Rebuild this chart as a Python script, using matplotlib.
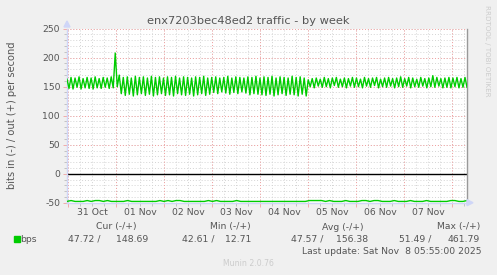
import numpy as np
import matplotlib
matplotlib.use("Agg")
import matplotlib.pyplot as plt
from matplotlib.patches import Rectangle

# time axis in days, 0 = 31 Oct 00:00
t_start, t_end = -0.021, 8.3125
day_labels = ["31 Oct", "01 Nov", "02 Nov", "03 Nov", "04 Nov", "05 Nov", "06 Nov", "07 Nov"]
y_ticks = [250, 200, 150, 100, 50, 0, -50]

# out (+) bits/s, one value per hour (peak / trough alternating)
out_vals = [
    163, 147, 166, 146, 165, 149, 167, 146, 164, 148, 166, 147, 165, 146, 167, 148, 164, 147, 166, 149, 165, 147, 167, 148,
    208, 150, 170, 138, 166, 135, 167, 137, 165, 134, 168, 136, 166, 138, 167, 135, 165, 137, 168, 134, 166, 136, 167, 138,
    165, 135, 167, 136, 166, 134, 168, 138, 165, 136, 167, 135, 166, 137, 165, 134, 167, 136, 166, 138, 168, 135, 165, 137,
    166, 140, 167, 138, 165, 141, 166, 139, 168, 137, 165, 140, 167, 138, 166, 141, 165, 139, 167, 136, 166, 138, 168, 137,
    165, 136, 167, 135, 166, 137, 168, 134, 165, 136, 167, 138, 166, 135, 165, 137, 168, 136, 166, 134, 167, 137, 165, 134,
    162, 150, 164, 148, 165, 151, 163, 149, 166, 150, 164, 148, 165, 152, 166, 149, 163, 150, 165, 148, 164, 151, 166, 149,
    165, 150, 163, 148, 166, 151, 164, 149, 165, 152, 166, 148, 163, 150, 165, 149, 166, 151, 164, 148, 165, 150, 167, 149,
    164, 151, 166, 148, 165, 150, 163, 149, 166, 151, 164, 148, 165, 150, 169, 149, 166, 151, 164, 148, 165, 149, 166, 148,
    165, 150, 166, 148, 164, 149, 166, 149,
]

# in (-) bits/s, one value per two hours (plotted negative)
in_vals = [
    -47.8, -46.3, -47.8, -47.8, -47.8, -46.3, -47.8, -46.3, -46.3, -47.8, -46.3, -47.8, -47.8, -47.8, -47.8, -46.3, -47.8, -47.8, -47.8, -47.8,
    -47.8, -47.8, -47.8, -46.3, -47.8, -46.3, -47.8, -46.3, -46.3, -47.8, -47.8, -47.8, -47.8, -47.8, -47.8, -46.3, -47.8, -46.3, -47.8, -47.8,
    -47.8, -47.8, -46.3, -47.8, -47.8, -47.8, -47.8, -47.8, -47.8, -47.8, -47.8, -47.8, -47.8, -47.8, -47.8, -47.8, -47.8, -47.8, -47.8, -47.8,
    -46.3, -46.3, -46.3, -46.3, -47.8, -46.3, -47.8, -47.8, -47.8, -46.3, -47.8, -47.8, -47.8, -46.3, -46.3, -47.8, -46.3, -46.3, -47.8, -47.8,
    -47.8, -46.3, -47.8, -47.8, -47.8, -46.3, -47.8, -47.8, -47.8, -46.3, -47.8, -47.8, -47.8, -47.8, -47.8, -46.3, -46.3, -47.8, -47.8, -46.3,
]

legend_cols = ["Cur (-/+)", "Min (-/+)", "Avg (-/+)", "Max (-/+)"]
legend_in = ["47.72 /", "42.61 /", "47.57 /", "51.49 /"]
legend_out = ["148.69", "12.71", "156.38", "461.79"]
last_update = "Last update: Sat Nov  8 05:55:00 2025"

W, H = 497, 275
fig = plt.figure(figsize=(W / 100, H / 100), dpi=100, facecolor="#f0f0f0")
# plot area in pixels: x 67..467, y 28.7..202.7
ax = fig.add_axes([67 / W, 1 - 202.7 / H, 400 / W, 174 / H])
ax.set_facecolor("white")

green = "#00cc00"
grey_txt = "#555555"
fs = 6.7

t_out = np.linspace(t_start, t_end, len(out_vals))
t_in = np.linspace(t_start, t_end, len(in_vals))

# grid
for d in np.arange(0.0, t_end, 0.25):
    ax.axvline(d, color="#d4d4d4", lw=0.7, ls=(0, (1, 2)), zorder=0)
for d in range(0, 9):
    ax.axvline(d, color="#f2a0a0", lw=0.7, ls=(0, (1, 2)), zorder=0.5)
for v in range(-50, 251, 10):
    ax.axhline(v, color="#d4d4d4", lw=0.7, ls=(0, (1, 2)), zorder=0)
for v in y_ticks:
    ax.axhline(v, color="#f2a0a0", lw=0.7, ls=(0, (1, 2)), zorder=0.5)

ax.plot(t_out, out_vals, color=green, lw=1, zorder=3)
ax.plot(t_in, in_vals, color=green, lw=1, zorder=3)
ax.axhline(0, color="black", lw=1, zorder=2)

ax.set_xlim(t_start, t_end)
ax.set_ylim(-50, 250)

ax.set_yticks(y_ticks)
ax.set_yticklabels([str(v) for v in y_ticks], fontsize=fs, color=grey_txt)
ax.set_yticks(range(-50, 251, 10), minor=True)
ax.tick_params(axis="y", which="major", length=3, width=0.6, color="#f2a0a0", pad=2)
ax.tick_params(axis="y", which="minor", length=2, width=0.6, color="#bbbbbb")

ax.set_xticks(np.arange(0, 9))
ax.set_xticklabels([])
ax.set_xticks(np.arange(0, t_end, 0.25), minor=True)
ax.tick_params(axis="x", which="major", length=3, width=0.6, color="#f2a0a0")
ax.tick_params(axis="x", which="minor", length=2, width=0.6, color="#bbbbbb")
for i, lab in enumerate(day_labels):
    ax.text(i + 0.5, -59, lab, ha="center", va="top", fontsize=fs, color=grey_txt, clip_on=False)

ax.spines["top"].set_visible(False)
ax.spines["left"].set_color("#cfd6f8")
ax.spines["bottom"].set_color("#cfd6f8")
ax.spines["right"].set_color("#999999")
for s in ax.spines.values():
    s.set_linewidth(1)

# axis arrows
fig.patches.append(plt.Polygon([[64 / W, 1 - 27 / H], [70 / W, 1 - 27 / H], [67 / W, 1 - 21 / H]],
                               transform=fig.transFigure, color="#cfd6f8"))
fig.patches.append(plt.Polygon([[467 / W, 1 - 199.7 / H], [467 / W, 1 - 205.7 / H], [473 / W, 1 - 202.7 / H]],
                               transform=fig.transFigure, color="#cfd6f8"))


def ftext(x, y, s, **kw):
    kw.setdefault("fontsize", fs)
    kw.setdefault("color", grey_txt)
    return fig.text(x / W, 1 - y / H, s, **kw)


ftext(248, 21, "enx7203bec48ed2 traffic - by week", ha="center", va="center", fontsize=8.2)
ftext(12, 115, "bits in (-) / out (+) per second", ha="center", va="center", rotation=90, fontsize=7.1)
ftext(487, 5, "RRDTOOL / TOBI OETIKER", ha="center", va="top", rotation=270, fontsize=5.1, color="#cccccc")

# legend
head_right = [136, 251, 364, 480]
in_right = [101, 214, 323, 431]
out_right = [148, 251, 368, 480]
for h, xr in zip(legend_cols, head_right):
    ftext(xr, 227, h, ha="right", va="center")
for v, xr in zip(legend_in, in_right):
    ftext(xr, 239, v, ha="right", va="center")
for v, xr in zip(legend_out, out_right):
    ftext(xr, 239, v, ha="right", va="center")
fig.patches.append(Rectangle((14 / W, 1 - 242 / H), 6 / W, 6 / H, transform=fig.transFigure,
                             color=green))
ftext(20, 239, "bps", ha="left", va="center")
ftext(482, 251, last_update, ha="right", va="center")
ftext(248, 263, "Munin 2.0.76", ha="center", va="center", fontsize=5.6, color="#cccccc")

fig.savefig("out.png", dpi=100, facecolor=fig.get_facecolor())
